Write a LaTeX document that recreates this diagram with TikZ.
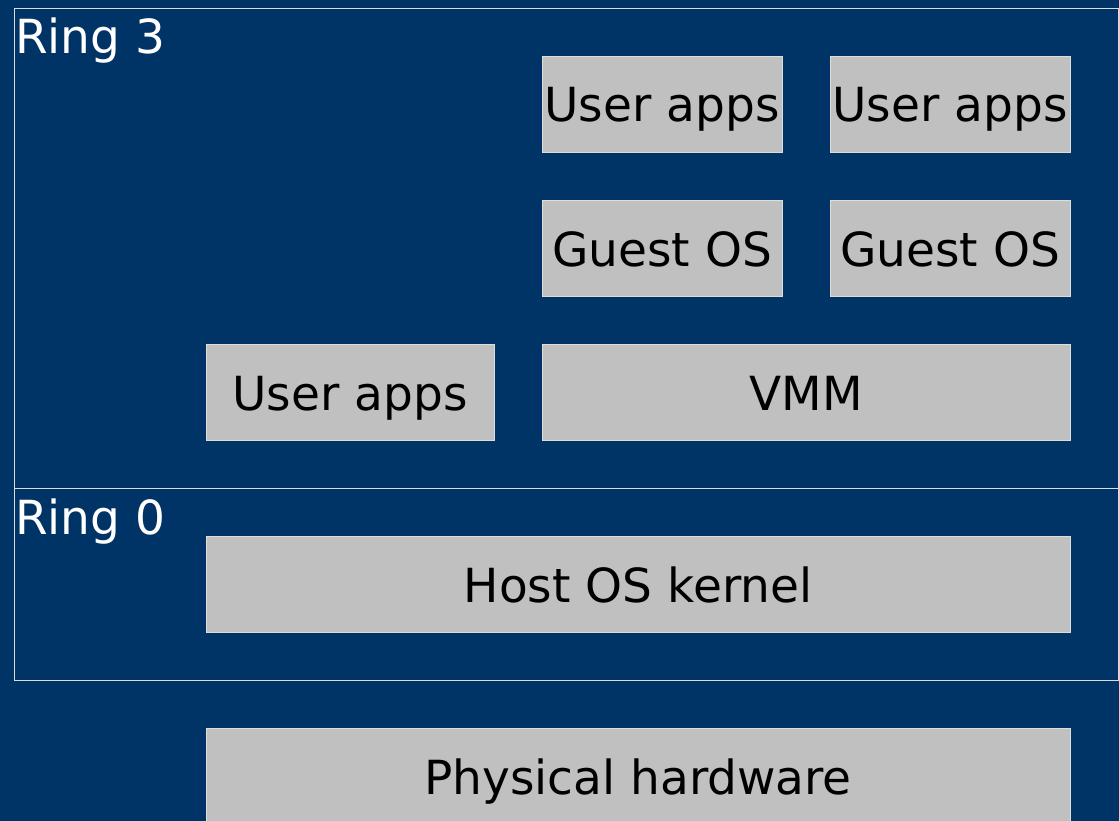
\documentclass[tikz,border=0pt]{standalone}
\usepackage{fontspec}
\setmainfont{DejaVu Sans}
\definecolor{bgblue}{RGB}{0,51,102}
\definecolor{boxgray}{RGB}{192,192,192}
\definecolor{edgegray}{RGB}{220,220,225}
\begin{document}
\begin{tikzpicture}[x=1pt,y=-1pt,
  layer/.style={draw=edgegray,line width=0.9pt,fill=boxgray},
  ring/.style={draw=edgegray,line width=0.9pt},
  lbl/.style={font=\fontsize{47}{52}\selectfont,text=black,anchor=base,inner sep=0pt},
  ringlbl/.style={font=\fontsize{47}{52}\selectfont,text=white,anchor=base west,inner sep=0pt}]
\fill[bgblue] (0,0) rectangle (1119,821);
\useasboundingbox (0,0) rectangle (1119,821);
\clip (0,0) rectangle (1119,821);
% ring frames
\draw[ring] (14,8) rectangle (1118,488);
\draw[ring] (14,488) rectangle (1118,680);
\node[ringlbl] (r3) at (15,54) {Ring 3};
\node[ringlbl] (r0) at (15,534) {Ring 0};
% boxes
\draw[layer] (542,56) rectangle (782,152);
\node[lbl] (ua1) at (662,122) {User apps};
\draw[layer] (830,56) rectangle (1070,152);
\node[lbl] (ua2) at (950,122) {User apps};
\draw[layer] (542,200) rectangle (782,296);
\node[lbl] (g1) at (662,266) {Guest OS};
\draw[layer] (830,200) rectangle (1070,296);
\node[lbl] (g2) at (950,266) {Guest OS};
\draw[layer] (206,344) rectangle (494,440);
\node[lbl] (ua0) at (350,410) {User apps};
\draw[layer] (542,344) rectangle (1070,440);
\node[lbl] (vmm) at (806,410) {VMM};
\draw[layer] (206,536) rectangle (1070,632);
\node[lbl] (host) at (638,602) {Host OS kernel};
\draw[layer] (206,728) rectangle (1070,830);
\node[lbl] (hw) at (638,794) {Physical hardware};
\end{tikzpicture}
\end{document}
